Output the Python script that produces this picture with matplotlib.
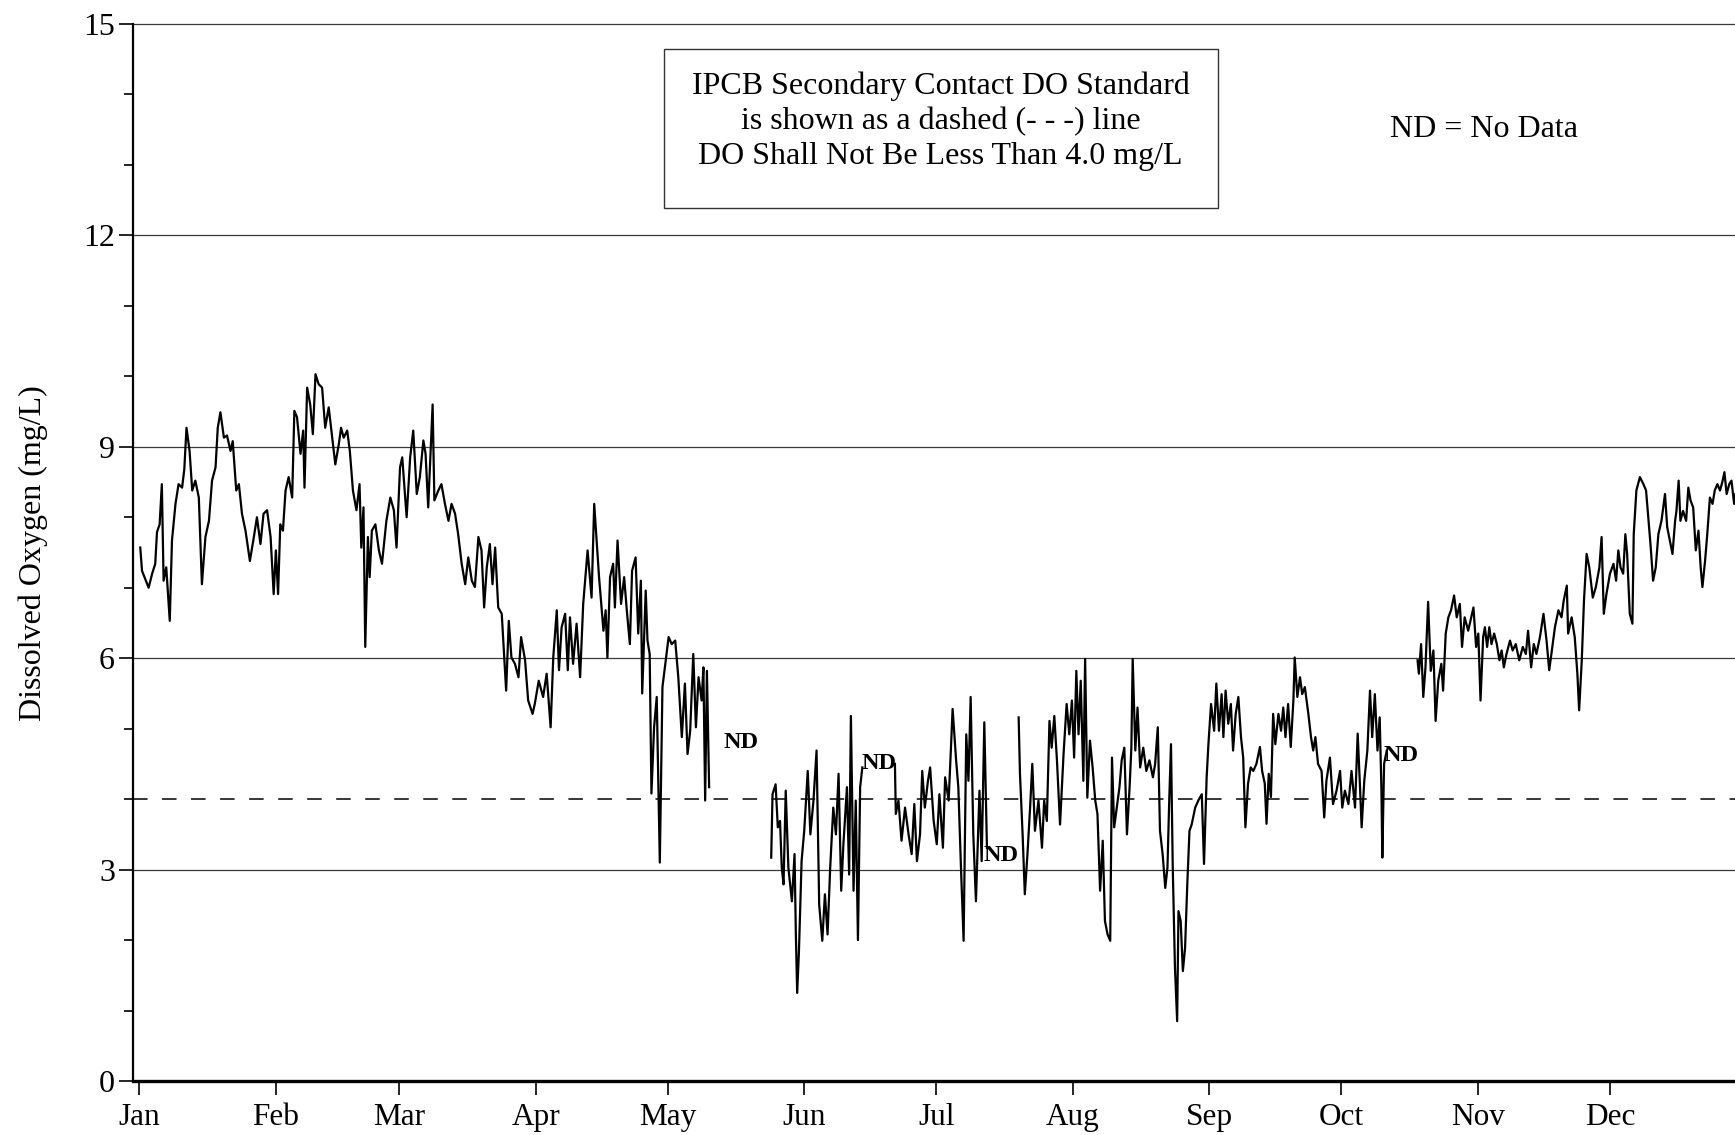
import numpy as np
import matplotlib
matplotlib.use('Agg')
import matplotlib.pyplot as plt
from matplotlib.patches import Rectangle

plt.rcParams['font.family'] = ['Liberation Serif', 'DejaVu Serif']

# day of year (0 = Jan 1) and dissolved oxygen (mg/L), one list pair per continuous record
seg1_day = [0.2, 0.6, 2.1, 2.9, 3.6, 4.0, 4.6, 5.1, 5.5, 6.1, 6.9, 7.4, 8.2, 8.9, 9.7, 10.2, 10.7, 11.4,
            12.0, 12.7, 13.5, 14.2, 15.0, 15.8, 16.5, 17.3, 17.8, 18.4, 19.2, 19.9, 20.7, 21.2, 22.0, 22.6,
            23.3, 24.1, 25.1, 26.0, 26.7, 27.5, 28.2, 29.0, 29.8, 30.5, 31.0, 31.5, 32.0, 32.6, 33.2, 33.9,
            34.7, 35.2, 35.8, 36.6, 37.2, 37.5, 38.1, 38.8, 39.4, 40.0, 40.7, 41.5, 42.2, 43.0, 43.8, 44.5,
            45.3, 45.8, 46.4, 47.2, 47.8, 48.5, 49.3, 50.0, 50.4, 50.9, 51.3, 51.9, 52.3, 52.8, 53.6, 54.4,
            55.1, 56.1, 57.0, 57.8, 58.4, 59.2, 59.7, 60.7, 61.5, 62.2, 63.0, 63.7, 64.5, 65.0, 65.6, 66.6,
            67.0, 67.9, 68.6, 69.4, 70.2, 70.9, 71.7, 72.4, 73.2, 74.0, 74.7, 75.5, 76.2, 77.0, 77.7, 78.3,
            78.9, 79.6, 80.2, 80.8, 81.5, 82.3, 83.3, 83.9, 84.5, 85.3, 86.1, 86.7, 87.6, 88.3, 89.3, 89.8,
            90.7, 91.7, 92.5, 93.4, 94.0, 94.8, 95.3, 95.9, 96.7, 97.3, 97.8, 98.5, 99.3, 100.1, 100.8,
            101.8, 102.7, 103.3, 103.8, 104.4, 105.4, 105.9, 106.3, 106.9, 107.6, 108.0, 108.6, 109.4,
            110.1, 110.7, 111.4, 111.9, 112.7, 113.3, 113.9, 114.2, 115.0, 115.4, 115.9, 116.3, 116.9,
            117.5, 118.2, 118.8, 120.2, 120.9, 121.7, 122.4, 123.2, 123.9, 124.5, 125.1, 125.8, 126.4,
            127.0, 127.7, 128.1, 128.5, 128.9, 129.4]
seg1_do = [7.57, 7.24, 7.0, 7.2, 7.34, 7.79, 7.9, 8.47, 7.1, 7.29, 6.53, 7.67, 8.19, 8.47, 8.42, 8.68, 9.27, 8.94,
           8.38, 8.52, 8.28, 7.05, 7.72, 7.95, 8.52, 8.71, 9.27, 9.49, 9.13, 9.16, 8.94, 9.08, 8.38, 8.47,
           8.05, 7.81, 7.38, 7.72, 8.0, 7.62, 8.05, 8.1, 7.72, 6.91, 7.53, 6.91, 7.9, 7.81, 8.38, 8.57,
           8.28, 9.51, 9.42, 8.9, 9.23, 8.42, 9.84, 9.6, 9.18, 10.03, 9.89, 9.84, 9.27, 9.56, 9.13, 8.75,
           9.04, 9.27, 9.13, 9.23, 8.94, 8.38, 8.1, 8.47, 7.57, 8.14, 6.16, 7.72, 7.15, 7.81, 7.9, 7.53,
           7.34, 7.95, 8.28, 8.1, 7.57, 8.71, 8.85, 8.0, 8.85, 9.23, 8.33, 8.57, 9.09, 8.9, 8.14, 9.6,
           8.24, 8.38, 8.47, 8.19, 7.95, 8.19, 8.05, 7.76, 7.34, 7.05, 7.43, 7.1, 7.01, 7.72, 7.53, 6.72,
           7.29, 7.62, 7.05, 7.57, 6.72, 6.63, 5.54, 6.53, 6.01, 5.92, 5.73, 6.3, 5.97, 5.4, 5.21, 5.35,
           5.68, 5.45, 5.78, 5.02, 6.01, 6.68, 5.83, 6.44, 6.63, 5.83, 6.58, 5.92, 6.49, 5.73, 6.77,
           7.53, 6.86, 8.19, 7.72, 7.15, 6.39, 6.68, 6.01, 7.15, 7.34, 6.72, 7.67, 6.77,
           7.15, 6.68, 6.2, 7.24, 7.43, 6.35, 7.1, 5.5, 6.96, 6.25, 6.06, 4.08, 5.02,
           5.45, 3.1, 5.59, 6.3, 6.2, 6.25, 5.73, 4.88, 5.64, 4.64, 4.97, 6.06, 5.02,
           5.73, 5.4, 5.87, 3.98, 5.82, 4.17]

seg2_day = [143.5, 143.8, 144.5, 145.0, 145.5, 145.9, 146.3, 146.8, 147.4, 148.2, 148.8, 149.1, 149.4,
            149.8, 150.4, 151.0, 151.8, 152.4, 153.1, 153.8, 154.4, 155.1, 155.7, 156.3, 156.9, 157.6,
            158.2, 158.8, 159.4, 159.9, 160.7, 161.2, 161.6, 162.2, 162.7, 163.2, 163.7, 164.2]
seg2_do = [3.17, 4.07, 4.21, 3.6, 3.69, 3.03, 2.79, 4.12, 3.03, 2.55, 3.22, 2.08, 1.25,
           1.84, 3.12, 3.55, 4.4, 3.5, 3.98, 4.69, 2.5, 1.99, 2.65, 2.08, 3.03, 3.88,
           3.5, 4.36, 2.7, 3.36, 4.17, 2.93, 5.18, 2.7, 3.98, 2.0, 4.17, 4.45]

seg3_day = [171.6, 171.8, 172.4, 173.1, 173.9, 174.7, 175.4, 176.0, 176.6, 177.3, 177.8, 178.4, 179.1,
            179.6, 180.4, 181.1, 181.7, 182.5, 183.0, 183.8, 184.3, 184.7, 185.5, 186.0, 186.6, 187.2,
            187.8, 188.3, 188.8, 189.4, 190.0, 190.8, 191.3, 191.9, 192.5]
seg3_do = [4.5, 3.79, 3.98, 3.41, 3.88, 3.5, 3.22, 3.93, 3.12, 3.5, 4.4, 3.88, 4.26,
           4.45, 3.69, 3.36, 4.07, 3.31, 4.31, 3.98, 4.69, 5.28, 4.55, 4.17, 3.03, 1.99,
           4.92, 4.26, 5.45, 3.5, 2.55, 4.12, 3.12, 5.09, 3.31]

seg4_day = [199.7, 200.0, 200.6, 201.1, 201.7, 202.3, 202.8, 203.4, 204.2, 205.0, 205.5, 206.1, 206.7,
            207.2, 207.8, 208.4, 209.1, 209.9, 210.6, 211.2, 211.8, 212.3, 212.8, 213.3, 213.8, 214.4,
            214.8, 215.3, 215.9, 216.5, 217.1, 217.6, 218.2, 218.8, 219.3, 219.9, 220.5, 220.9, 221.4,
            222.0, 222.6, 223.1, 223.7, 224.3, 224.9, 225.3, 225.6, 226.2, 226.7, 227.3, 228.0, 228.7,
            229.4, 230.2, 230.7, 231.3, 231.8, 232.4, 233.0, 233.5, 233.9, 234.3, 234.7, 235.2, 235.7,
            236.0, 236.5, 237.0, 237.5, 238.0, 238.5, 239.0, 239.8, 240.5, 241.3, 241.8, 242.4, 242.8,
            243.4, 244.1, 244.6, 245.2, 245.8, 246.2, 246.7, 247.3, 247.9, 248.4, 249.0, 249.6, 250.2,
            250.7, 251.2, 251.8, 252.4, 253.0, 253.7, 254.5, 255.0, 255.6, 256.0, 256.5, 257.0, 257.5,
            258.0, 258.7, 259.3, 259.8, 260.3, 260.9, 261.5, 262.1, 262.4, 263.0, 263.6, 264.1, 264.7,
            265.5, 266.1, 266.6, 267.1, 267.7, 268.5, 269.1, 269.6, 270.4, 271.1, 271.9, 272.7, 273.2,
            273.8, 274.6, 275.3, 276.1, 276.7, 277.2, 277.6, 278.2, 278.9, 279.5, 280.0, 280.6, 281.2,
            281.7, 282.1, 282.3, 282.7, 283.3]
seg4_do = [5.16, 4.36, 3.5, 2.65, 3.22, 3.88, 4.5, 3.55, 3.98, 3.31, 3.98, 3.69, 5.11,
           4.73, 5.18, 4.55, 3.64, 4.64, 5.35, 4.92, 5.4, 4.59, 5.82, 4.92, 5.68, 4.26,
           5.99, 4.02, 4.83, 4.45, 3.98, 3.79, 2.7, 3.41, 2.27, 2.08, 1.99, 4.59, 3.6,
           3.88, 4.17, 4.55, 4.73, 3.5, 4.17, 4.73, 5.99, 4.69, 5.3, 4.45, 4.73, 4.4,
           4.55, 4.31, 4.5, 5.02, 3.55, 3.22, 2.74, 3.03, 3.98, 4.78, 3.03, 1.61, 0.85,
           2.41, 2.27, 1.56, 1.89, 2.79, 3.55, 3.64, 3.88, 3.98, 4.07, 3.08, 4.31, 4.78,
           5.35, 4.97, 5.64, 4.97, 5.49, 4.88, 5.54, 5.07, 5.35, 4.69, 5.21, 5.45, 4.88,
           4.59, 3.6, 4.22, 4.45, 4.4, 4.5, 4.74, 4.4, 4.22, 3.65, 4.36, 4.03, 5.21,
           4.78, 5.21, 4.97, 5.3, 4.88, 5.35, 4.74, 5.4, 6.01, 5.45, 5.73, 5.49, 5.59,
           5.21, 4.88, 4.69, 4.88, 4.5, 4.4, 3.74, 4.26, 4.59, 3.93, 4.12, 4.4, 3.88,
           4.12, 3.93, 4.4, 3.88, 4.93, 4.22, 3.6, 4.26, 4.69, 5.54, 4.88, 5.49, 4.69,
           5.16, 4.12, 3.17, 4.5, 4.69]

seg5_day = [290.3, 290.6, 291.1, 291.6, 292.1, 292.7, 293.3, 293.9, 294.4, 295.0, 295.7, 296.1, 296.7,
            297.3, 297.9, 298.6, 299.2, 299.9, 300.4, 301.0, 301.8, 303.0, 303.6, 304.1, 304.6, 305.2,
            305.6, 306.1, 306.6, 307.1, 307.7, 308.3, 308.9, 309.4, 309.9, 310.5, 311.3, 311.9, 312.6,
            313.4, 314.2, 314.9, 315.4, 316.1, 316.7, 317.3, 318.1, 318.9, 319.6, 320.2, 320.7, 321.5,
            322.3, 323.0, 323.5, 324.2, 324.5, 325.3, 326.0, 326.6, 327.0, 327.6, 328.1, 328.7, 329.3,
            330.1, 330.8, 331.6, 332.1, 332.6, 333.2, 334.0, 334.8, 335.4, 335.9, 336.4, 337.0, 337.5,
            337.9, 338.5, 339.1, 339.4, 340.0, 340.8, 341.6, 342.2, 342.7, 343.2, 343.8, 344.4, 345.0,
            345.7, 346.5, 347.0, 347.6, 348.2, 348.8, 349.1, 349.6, 350.0, 350.6, 351.3, 351.8, 352.3,
            352.9, 353.5, 354.1, 354.6, 355.0, 355.6, 356.1, 356.7, 357.3, 357.8, 358.4, 359.0, 359.6,
            360.0, 360.5, 361.1, 361.6, 362.2, 362.5]
seg5_do = [5.97, 5.78, 6.2, 5.45, 5.87, 6.8, 5.82, 6.11, 5.11, 5.68, 5.92, 5.54, 6.35,
           6.58, 6.68, 6.89, 6.58, 6.77, 6.16, 6.58, 6.39, 6.72, 6.16, 6.35, 5.4, 6.3,
           6.44, 6.16, 6.44, 6.2, 6.35, 6.2, 5.97, 6.11, 5.87, 6.06, 6.25, 6.11, 6.2,
           5.97, 6.16, 6.06, 6.39, 5.87, 6.2, 6.06, 6.3, 6.63, 6.25, 5.83, 6.06, 6.44,
           6.68, 6.58, 6.82, 7.03, 6.35, 6.58, 6.3, 5.78, 5.26, 5.97, 6.82, 7.48, 7.29,
           6.86, 7.01, 7.29, 7.72, 6.63, 6.91, 7.2, 7.34, 7.1, 7.53, 7.29, 7.2, 7.76,
           7.48, 6.63, 6.49, 7.76, 8.38, 8.57, 8.47, 8.38, 8.0, 7.62, 7.1, 7.29, 7.76,
           7.95, 8.33, 7.86, 7.67, 7.48, 7.95, 8.09, 8.52, 7.95, 8.09, 7.95, 8.42, 8.24,
           8.14, 7.53, 7.81, 7.29, 7.01, 7.38, 7.76, 8.28, 8.19, 8.38, 8.47, 8.38, 8.52,
           8.64, 8.33, 8.47, 8.52, 8.19, 8.33]

month_start = [0, 31, 59, 90, 120, 151, 181, 212, 243, 273, 304, 334]
month_label = ['Jan', 'Feb', 'Mar', 'Apr', 'May', 'Jun', 'Jul', 'Aug', 'Sep', 'Oct', 'Nov', 'Dec']

do_standard = 4.0
nd_day = [136.6, 168.0, 195.7, 286.5]
nd_do = [4.81, 4.5, 3.2, 4.62]

fig = plt.figure(figsize=(17.35, 11.35), dpi=100)
ax = fig.add_axes([133 / 1735, 54 / 1135, 1 - 133 / 1735, (1081 - 24) / 1135])

# grid lines and the standard
for g in [3, 6, 9, 12, 15]:
    ax.axhline(g, color='#3a3a3a', lw=0.9, zorder=1, clip_on=False)
ax.axhline(do_standard, color='black', lw=1.1, ls=(0, (9.5, 9.5)), zorder=1)

for d, v in [(seg1_day, seg1_do), (seg2_day, seg2_do), (seg3_day, seg3_do),
             (seg4_day, seg4_do), (seg5_day, seg5_do)]:
    ax.plot(d, v, color='black', lw=1.6, zorder=3)

for d, v in zip(nd_day, nd_do):
    ax.text(d, v, 'ND', fontsize=17.5, fontweight='bold', ha='center', va='center', zorder=4)

# note box
ax.add_patch(Rectangle((119.1, 12.39), 245.0 - 119.1, 14.65 - 12.39, fill=False,
                       edgecolor='#333333', lw=1.0, zorder=2))
ax.text(182.0, 13.62, 'IPCB Secondary Contact DO Standard\nis shown as a dashed (- - -) line\n'
        'DO Shall Not Be Less Than 4.0 mg/L', fontsize=23, ha='center', va='center',
        linespacing=1.27, zorder=4)
ax.text(305.4, 13.5, 'ND = No Data', fontsize=23, ha='center', va='center')

ax.set_xlim(-1.45, 362.4)
ax.set_ylim(0, 15)
ax.set_xticks(month_start)
ax.set_xticklabels(month_label)
ax.set_yticks([0, 3, 6, 9, 12, 15])
ax.set_yticks([1, 2, 4, 5, 7, 8, 10, 11, 13, 14], minor=True)

for s in ['top', 'right']:
    ax.spines[s].set_visible(False)
ax.spines['left'].set_linewidth(1.6)
ax.spines['bottom'].set_linewidth(2.4)
ax.tick_params(axis='x', direction='out', length=10, width=1.2, labelsize=22.5, pad=6)
ax.tick_params(axis='y', which='major', direction='out', length=10, width=1.2, labelsize=23, pad=3)
ax.tick_params(axis='y', which='minor', direction='out', length=6.5, width=1.2)

fig.text(33 / 1735, 1 - 553 / 1135, 'Dissolved Oxygen (mg/L)', rotation=90,
         fontsize=23, ha='center', va='center')

fig.savefig('out.png', dpi=100)
plt.close(fig)
